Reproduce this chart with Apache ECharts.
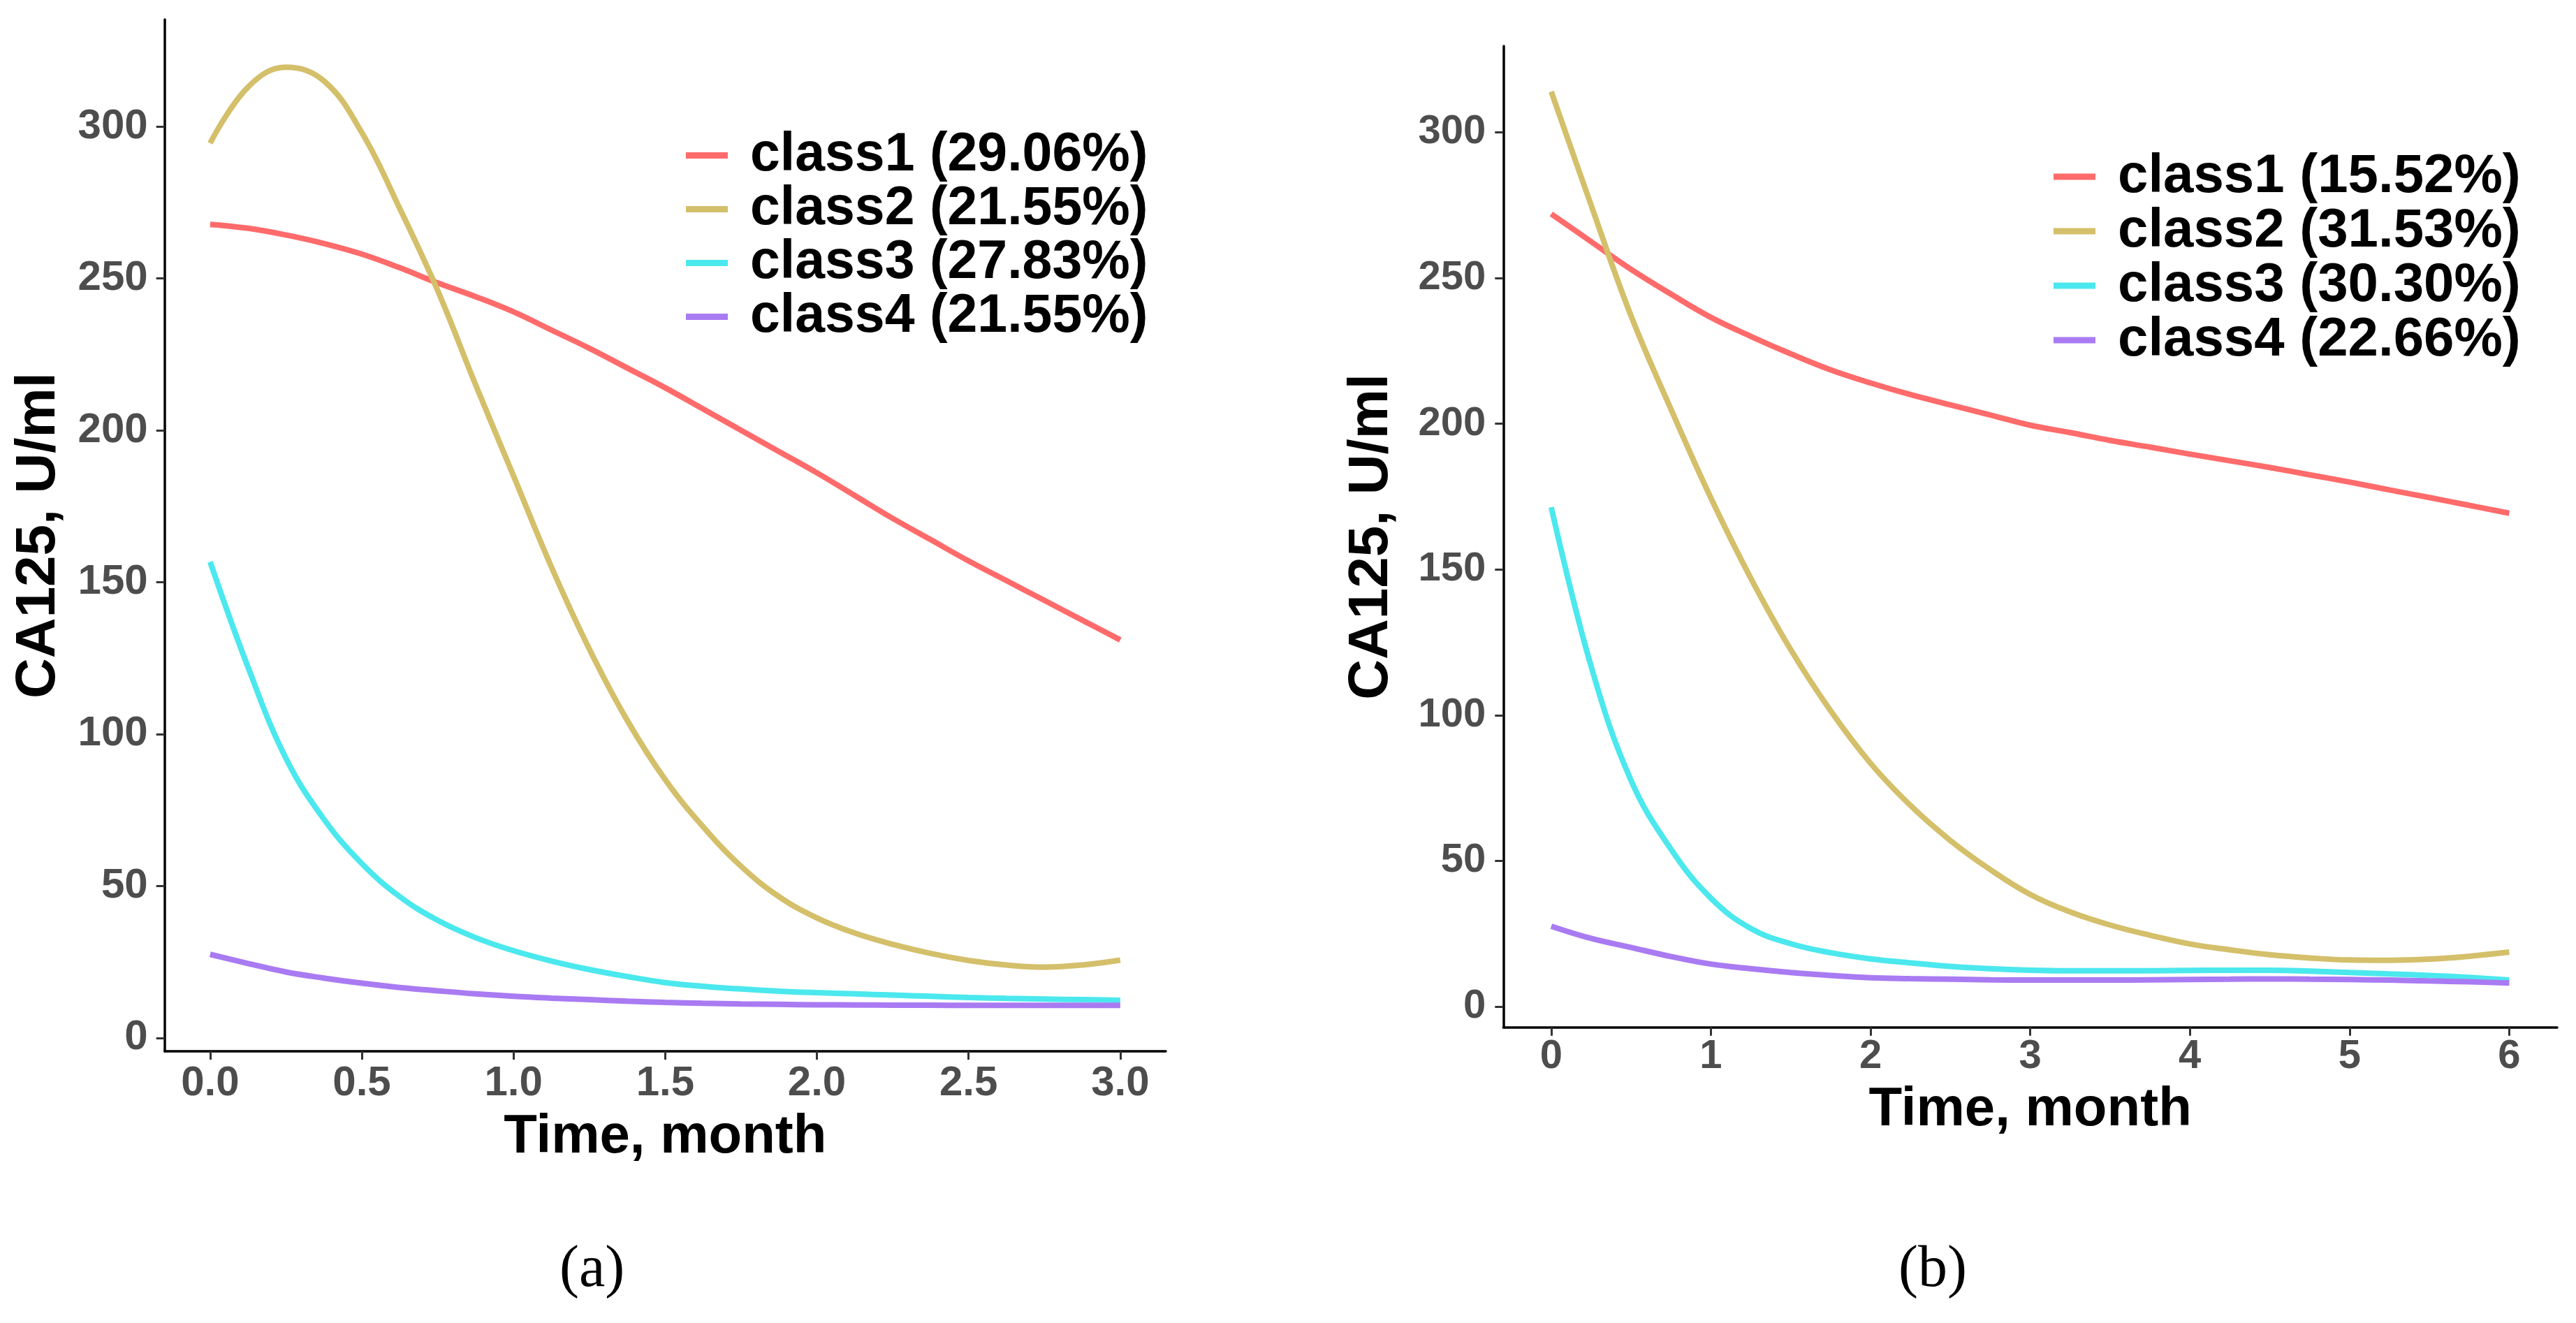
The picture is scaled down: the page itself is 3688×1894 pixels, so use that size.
<!DOCTYPE html>
<html>
<head>
    <meta charset="utf-8">
    <title>CA125 trajectories</title>
    <script src="https://cdn.jsdelivr.net/npm/echarts@6.0.0/dist/echarts.min.js"></script>
    <style>
        html, body { margin: 0; padding: 0; background: #ffffff; }
        #chart { width: 3688px; height: 1894px; }
    </style>
</head>
<body>
<div id="chart"></div>
<script>
    // panel (a): 3-month follow-up, sampled every 0.125 month
    var timeA = [0, 0.125, 0.25, 0.375, 0.5, 0.625, 0.75, 0.875, 1, 1.125, 1.25, 1.375, 1.5,
        1.625, 1.75, 1.875, 2, 2.125, 2.25, 2.375, 2.5, 2.625, 2.75, 2.875, 3];
    var class1A = [267.8, 266.5, 264.3, 261.5, 258, 253.5, 248.5, 244, 239, 233, 227, 220.5, 214,
        207, 200, 193, 186, 178.5, 171, 164, 157, 150.5, 144, 137.5, 131];
    var class2A = [294.5, 313, 319.5, 315, 298, 273, 246, 215, 185, 155, 128, 104.5, 85,
        69.5, 56.5, 46.5, 39.5, 34.5, 30.8, 27.8, 25.5, 24, 23.3, 24, 25.6];
    var class3A = [156.7, 122, 92, 72, 57.4, 46.5, 38.7, 33, 28.7, 25.3, 22.5, 20.2, 18.2,
        17, 16.1, 15.4, 14.9, 14.5, 14.1, 13.7, 13.3, 13, 12.8, 12.6, 12.4];
    var class4A = [27.5, 24.5, 21.7, 19.7, 18, 16.6, 15.5, 14.5, 13.7, 13.1, 12.6, 12.1, 11.7,
        11.4, 11.2, 11.05, 10.9, 10.85, 10.8, 10.75, 10.7, 10.7, 10.7, 10.7, 10.7];
    var namesA = ['class1 (29.06%)', 'class2 (21.55%)', 'class3 (27.83%)', 'class4 (21.55%)'];
    var xTicksA = [0, 0.5, 1, 1.5, 2, 2.5, 3];

    // panel (b): 6-month follow-up, sampled every 0.25 month
    var timeB = [0, 0.25, 0.5, 0.75, 1, 1.25, 1.5, 1.75, 2, 2.25, 2.5, 2.75, 3,
        3.25, 3.5, 3.75, 4, 4.25, 4.5, 4.75, 5, 5.25, 5.5, 5.75, 6];
    var class1B = [272, 262.5, 253, 244.5, 236.5, 230, 224, 218.5, 214, 210, 206.5, 203, 199.5,
        197, 194.3, 192, 189.6, 187.3, 185, 182.5, 180, 177.3, 174.7, 172, 169.3];
    var class2B = [314, 275, 237, 205, 174.5, 147, 122.5, 101.5, 83.5, 69, 57, 47, 38.5,
        32.5, 28, 24.5, 21.5, 19.5, 17.8, 16.7, 16, 15.9, 16.3, 17.3, 18.7];
    var class3B = [171.4, 116.7, 77.6, 54, 37.2, 26.8, 21.6, 18.5, 16.4, 15, 13.8, 13, 12.5,
        12.3, 12.3, 12.3, 12.4, 12.5, 12.5, 12.2, 11.7, 11.2, 10.7, 10, 9.1];
    var class4B = [27.6, 23.4, 20.3, 17.2, 14.6, 13, 11.7, 10.7, 9.9, 9.6, 9.4, 9.2, 9.1,
        9.1, 9.1, 9.2, 9.3, 9.4, 9.5, 9.4, 9.3, 9.1, 8.8, 8.5, 8.1];
    var namesB = ['class1 (15.52%)', 'class2 (31.53%)', 'class3 (30.30%)', 'class4 (22.66%)'];
    var xTicksB = [0, 1, 2, 3, 4, 5, 6];

    var yTicks = [0, 50, 100, 150, 200, 250, 300];
    var colors = ['#FF6B6B', '#D4BF6A', '#4BE8EE', '#A97BF2'];

    var FONT = '"Liberation Sans", Arial, sans-serif';
    var SERIF = '"Liberation Serif", "Times New Roman", serif';

    function pairs(xs, ys) {
        var out = [];
        for (var i = 0; i < xs.length; i++) out.push([xs[i], ys[i]]);
        return out;
    }

    function xAxisOf(grid, min, max, ticks, fmt, margin, labelSize, gap) {
        return {
            type: 'value', gridIndex: grid, min: min, max: max,
            splitLine: {show: false},
            axisLine: {onZero: false, lineStyle: {color: '#000', width: 3.5}},
            axisTick: {customValues: ticks, length: 12, lineStyle: {color: '#333', width: 3}},
            axisLabel: {
                customValues: ticks, formatter: fmt, margin: margin,
                fontSize: labelSize, fontWeight: 'bold', color: '#4D4D4D', fontFamily: FONT
            },
            name: 'Time, month', nameLocation: 'middle', nameGap: gap,
            nameTextStyle: {fontSize: 78, fontWeight: 'bold', color: '#000', fontFamily: FONT}
        };
    }

    function yAxisOf(grid, min, max, margin, labelSize, gap) {
        return {
            type: 'value', gridIndex: grid, min: min, max: max,
            splitLine: {show: false},
            axisLine: {show: true, onZero: false, lineStyle: {color: '#000', width: 3.5}},
            axisTick: {show: true, customValues: yTicks, length: 12, lineStyle: {color: '#333', width: 3}},
            axisLabel: {
                customValues: yTicks, margin: margin,
                fontSize: labelSize, fontWeight: 'bold', color: '#4D4D4D', fontFamily: FONT
            },
            name: 'CA125, U/ml', nameLocation: 'middle', nameGap: gap,
            nameTextStyle: {fontSize: 80, fontWeight: 'bold', color: '#000', fontFamily: FONT}
        };
    }

    function lineOf(name, idx, xs, ys, color) {
        return {
            name: name, type: 'line', xAxisIndex: idx, yAxisIndex: idx,
            data: pairs(xs, ys), smooth: 0.4, showSymbol: false, symbol: 'none',
            color: color, itemStyle: {color: color},
            lineStyle: {color: color, width: 8},
            emphasis: {disabled: true}
        };
    }

    function legendOf(names, left, top, size, rowH) {
        return {
            data: names, orient: 'vertical', left: left, top: top, padding: 0,
            icon: 'rect', itemWidth: 60, itemHeight: 9, itemGap: 0,
            selectedMode: false,
            textStyle: {
                fontSize: size, fontWeight: 'bold', color: '#000', fontFamily: FONT,
                lineHeight: rowH, padding: [0, 0, 0, 27]
            }
        };
    }

    var chart = echarts.init(document.getElementById('chart'), null, {renderer: 'canvas'});

    var option = {
        backgroundColor: '#ffffff',
        animation: false,
        title: [
            {text: '(a)', left: 801, top: 1777, padding: 0,
                textStyle: {fontFamily: SERIF, fontSize: 84, fontWeight: 'normal', color: '#000'}},
            {text: '(b)', left: 2718, top: 1777, padding: 0,
                textStyle: {fontFamily: SERIF, fontSize: 84, fontWeight: 'normal', color: '#000'}}
        ],
        grid: [
            {left: 235.7, top: 28, width: 1433.3, height: 1477},
            {left: 2152.3, top: 66, width: 1508.7, height: 1404.7}
        ],
        xAxis: [
            xAxisOf(0, -0.15, 3.15, xTicksA, function (v) { return v.toFixed(1); }, 16, 60, 84),
            xAxisOf(1, -0.3, 6.3, xTicksB, function (v) { return String(v); }, 13, 58, 80)
        ],
        yAxis: [
            yAxisOf(0, -4.4, 335.2, 24, 60, 140),
            yAxisOf(1, -7.1, 329.6, 25, 58, 148)
        ],
        legend: [
            legendOf(namesA, 982, 184, 77, 75),
            legendOf(namesB, 2940, 214, 78, 71.3)
        ],
        series: [
            lineOf(namesA[0], 0, timeA, class1A, colors[0]),
            lineOf(namesA[1], 0, timeA, class2A, colors[1]),
            lineOf(namesA[2], 0, timeA, class3A, colors[2]),
            lineOf(namesA[3], 0, timeA, class4A, colors[3]),
            lineOf(namesB[0], 1, timeB, class1B, colors[0]),
            lineOf(namesB[1], 1, timeB, class2B, colors[1]),
            lineOf(namesB[2], 1, timeB, class3B, colors[2]),
            lineOf(namesB[3], 1, timeB, class4B, colors[3])
        ]
    };

    chart.setOption(option);
</script>
</body>
</html>
